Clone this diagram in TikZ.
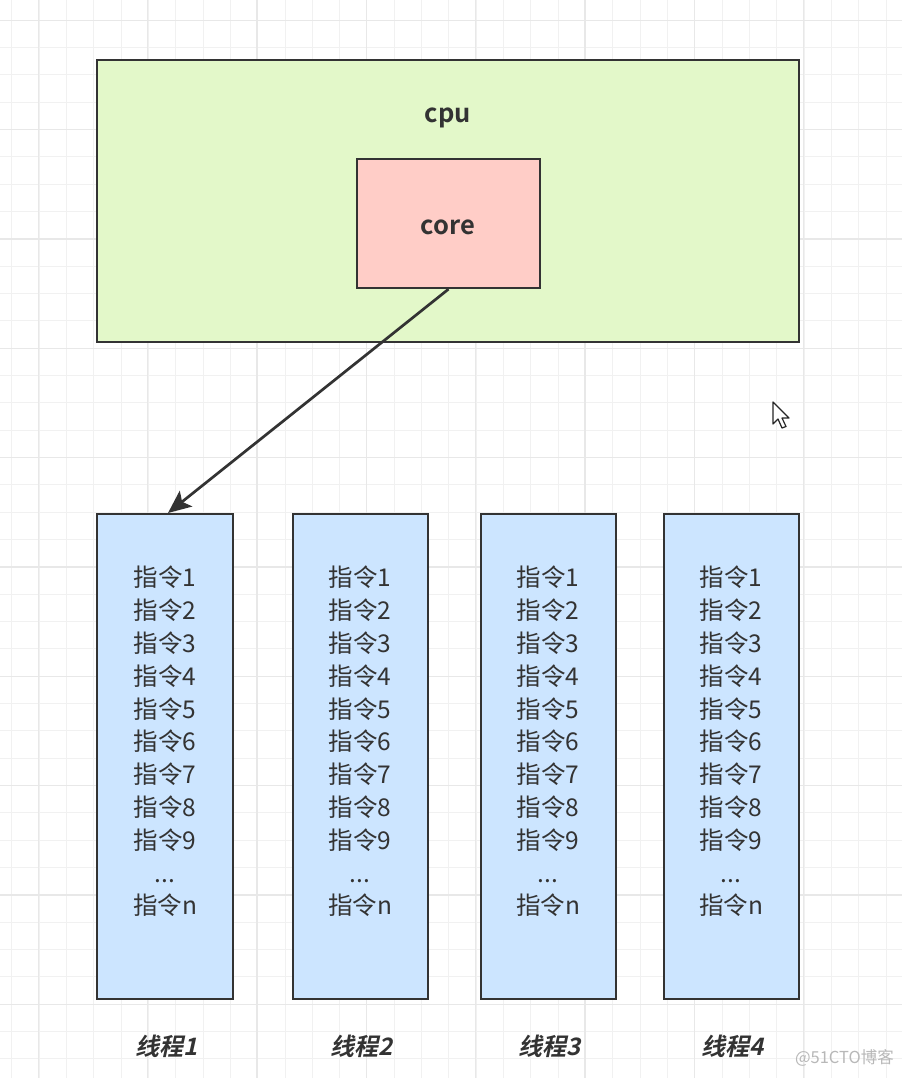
\documentclass[tikz,border=0pt]{standalone}
\usepackage{fontspec}
\usetikzlibrary{arrows.meta}
\newfontfamily\cjk{Noto Sans CJK SC}
\newfontfamily\cjkb{Noto Sans CJK SC Bold}
\newfontfamily\cjkbi{Noto Sans CJK SC Bold}[FakeSlant=0.22]
\definecolor{gridminor}{HTML}{F1F1F1}
\definecolor{gridmajor}{HTML}{E8E8E8}
\definecolor{cpufill}{HTML}{E3F8C9}
\definecolor{corefill}{HTML}{FFCDC7}
\definecolor{thfill}{HTML}{CCE5FF}
\definecolor{edge}{HTML}{333333}
\definecolor{txt}{HTML}{333333}
\tikzset{
  boxstyle/.style={draw=edge, line width=2.3pt},
  instr/.style={font=\cjk\fontsize{24.5}{32.8}\selectfont, text=txt, align=center, inner sep=0pt},
  thlabel/.style={font=\cjkbi\fontsize{24}{28}\selectfont, text=txt, inner sep=0pt},
  boldlabel/.style={font=\cjkb\fontsize{25.5}{30}\selectfont, text=txt, inner sep=0pt},
  conn/.style={draw=edge, line width=2.7pt, -{Stealth[length=23pt,width=20pt,inset=5pt]}}
}
\begin{document}
\begin{tikzpicture}[x=1pt,y=-1pt]
\useasboundingbox (0,0) rectangle (902,1078);
\fill[white] (0,0) rectangle (902,1078);
% grid
\begin{scope}
\clip (0,0) rectangle (902,1078);
\foreach \i in {0,...,33} {
  \draw[gridminor, line width=1pt] ({11.7+\i*27.33},0) -- ++(0,1078);
}
\foreach \i in {0,...,40} {
  \draw[gridminor, line width=1pt] (0,{20.3+\i*27.33}) -- ++(902,0);
}
\foreach \i in {0,...,8} {
  \draw[gridmajor, line width=1.2pt] ({38.3+\i*109.33},0) -- ++(0,1078);
}
\foreach \i in {0,...,10} {
  \draw[gridmajor, line width=1.2pt] (0,{20.3+\i*109.33}) -- ++(902,0);
}
\end{scope}
% cpu
\draw[boxstyle, fill=cpufill] (97,60) rectangle (799,342);
\node[boldlabel] (cpu) at (448,118) {cpu};
\node[boxstyle, fill=corefill, minimum width=183pt, minimum height=129pt, inner sep=0pt] (core) at (448.5,223.5) {};
\node[boldlabel] (corelbl) at (448,227) {core};
% threads
\node[boxstyle, fill=thfill, minimum width=136pt, minimum height=485pt, inner sep=0pt] (t1) at (165,756.5) {};
\node[boxstyle, fill=thfill, minimum width=135pt, minimum height=485pt, inner sep=0pt] (t2) at (360.5,756.5) {};
\node[boxstyle, fill=thfill, minimum width=135pt, minimum height=485pt, inner sep=0pt] (t3) at (548.5,756.5) {};
\node[boxstyle, fill=thfill, minimum width=135pt, minimum height=485pt, inner sep=0pt] (t4) at (731.5,756.5) {};
\foreach \n/\x in {1/165,2/360,3/548,4/731} {
  \node[instr] (i\n) at (\x,741.5) {指令1\\指令2\\指令3\\指令4\\指令5\\指令6\\指令7\\指令8\\指令9\\...\\指令n};
  \node[thlabel] (l\n) at (\x+2,1046) {线程\n};
}
% arrow
\coordinate (tip) at (168,513);
\draw[conn] (core.south) -- (tip);
% cursor
\draw[fill=white, draw=black!85, line width=1.2pt, line join=round] (773,402) -- (773,424) -- (778,419) -- (782,428) -- (786,426.5) -- (782,418) -- (789,418) -- cycle;
% watermark
\node[font=\cjk\fontsize{16.5}{20}\selectfont, text=black!28, anchor=east, inner sep=0pt] (wm) at (894,1058) {@51CTO博客};
\end{tikzpicture}
\end{document}
